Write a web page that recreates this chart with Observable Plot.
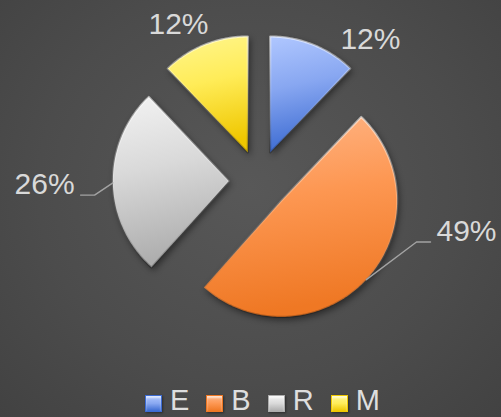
<!DOCTYPE html>
<html><head><meta charset="utf-8">
<script src="https://cdn.jsdelivr.net/npm/d3@7"></script>
<script src="https://cdn.jsdelivr.net/npm/@observablehq/plot@0.6"></script>
<style>
html,body{margin:0;padding:0;width:501px;height:417px;overflow:hidden;}
body{position:relative;background:radial-gradient(ellipse farthest-corner at 50% 45%, #585858 0%, #4c4c4c 60%, #424242 100%);font-family:"Liberation Sans",Arial,sans-serif;}
#chart svg{display:block;background:transparent;}
#chart svg g[aria-label="line"].slices{filter:drop-shadow(2px 3px 3px rgba(0,0,0,0.45));}
#legend{position:absolute;left:145px;top:386px;display:flex;align-items:center;height:29px;font-size:29px;color:#dedede;white-space:nowrap;}
.item{display:flex;align-items:center;margin-right:17px;height:29px;}
.sw{position:relative;top:3px;width:17px;height:17px;margin-right:8px;box-sizing:border-box;}
.tx{display:inline-block;line-height:29px;height:29px;}
</style></head><body>
<div id="chart"></div><div id="legend"></div>
<script>
// ---- data ----
const categories = ["E", "B", "R", "M"];
const values = [12, 49, 26, 12];
// ---- style / layout ----
const palette = {
  E: ["#b0c7ff", "#88a7f1", "#3c6bd2"],
  B: ["#ffb688", "#fd9752", "#ef7824"],
  R: ["#f3f3f3", "#d9d9d9", "#adadad"],
  M: ["#fff68e", "#ffec58", "#efc700"]
};
const labelAngleDeg = [38.3, 103.8, 268.9, 332.7];
const labelRadius = [1.55, 1.842, 1.849, 1.513];
const explode = 0.26;
const unitPx = 116, W = 501, H = 386, cxPx = 258.5, cyPx = 180;

const total = d3.sum(values);
const arcs = d3.pie().sort(null).value(d => d)(values);
const fmt = d3.format(".0%");

const slicePts = [];
const labels = [];
const leaders = [];
arcs.forEach((a, i) => {
  const key = categories[i];
  const mid = (a.startAngle + a.endAngle) / 2;
  const ox = explode * Math.sin(mid), oy = explode * Math.cos(mid);
  slicePts.push({key, x: ox, y: oy});
  const n = Math.ceil((a.endAngle - a.startAngle) / (Math.PI / 180));
  for (let j = 0; j <= n; j++) {
    const t = a.startAngle + (a.endAngle - a.startAngle) * j / n;
    slicePts.push({key, x: ox + Math.sin(t), y: oy + Math.cos(t)});
  }
  slicePts.push({key, x: ox, y: oy});
  const la = labelAngleDeg[i] * Math.PI / 180;
  const lx = labelRadius[i] * Math.sin(la), ly = labelRadius[i] * Math.cos(la);
  labels.push({key, x: lx, y: ly, text: fmt(values[i] / total)});
  if (labelRadius[i] > 1.7) {
    const side = lx < 0 ? 1 : -1;
    const yy = ly - 10.5 / unitPx;
    leaders.push({key, x: ox + Math.sin(mid), y: oy + Math.cos(mid)});
    leaders.push({key, x: lx + side * 50 / unitPx, y: yy});
    leaders.push({key, x: lx + side * 36 / unitPx, y: yy});
  }
});

const svg = Plot.plot({
  width: W, height: H, margin: 0,
  style: {background: "transparent", overflow: "visible"},
  x: {domain: [-cxPx / unitPx, (W - cxPx) / unitPx], axis: null},
  y: {domain: [-(H - cyPx) / unitPx, cyPx / unitPx], axis: null},
  color: {domain: categories, range: categories.map(k => `url(#grad-${k})`)},
  marks: [
    Plot.line(slicePts, {x: "x", y: "y", z: "key", fill: "key", stroke: "url(#bevel)", strokeWidth: 2.2, curve: "linear", className: "slices"}),
    Plot.line(leaders, {x: "x", y: "y", z: "key", stroke: "#a3a3a3", strokeWidth: 1.4, curve: "linear"}),
    Plot.text(labels, {x: "x", y: "y", text: "text", fill: "#d9d9d9", fontSize: 30, fontFamily: "Liberation Sans, Arial, sans-serif", textAnchor: "middle"})
  ]
});

const defs = d3.select(svg).insert("defs", ":first-child");
categories.forEach(k => {
  const g = defs.append("linearGradient").attr("id", `grad-${k}`)
    .attr("x1", 0).attr("y1", 0).attr("x2", 0.15).attr("y2", 1);
  g.append("stop").attr("offset", "0%").attr("stop-color", palette[k][0]);
  g.append("stop").attr("offset", "45%").attr("stop-color", palette[k][1]);
  g.append("stop").attr("offset", "100%").attr("stop-color", palette[k][2]);
});
const bv = defs.append("linearGradient").attr("id", "bevel").attr("x1", 0).attr("y1", 0).attr("x2", 0).attr("y2", 1);
bv.append("stop").attr("offset", "0%").attr("stop-color", "#ffffff").attr("stop-opacity", 0.55);
bv.append("stop").attr("offset", "50%").attr("stop-color", "#ffffff").attr("stop-opacity", 0.15);
bv.append("stop").attr("offset", "100%").attr("stop-color", "#000000").attr("stop-opacity", 0.25);

document.getElementById("chart").appendChild(svg);

const legend = document.getElementById("legend");
categories.forEach(k => {
  const it = document.createElement("div");
  it.className = "item";
  const sw = document.createElement("span");
  sw.className = "sw";
  sw.style.background = `linear-gradient(to bottom, ${palette[k][0]}, ${palette[k][1]} 50%, ${palette[k][2]})`;
  sw.style.border = `1px solid ${palette[k][2]}`;
  sw.style.boxShadow = "inset 0 2px 2px rgba(255,255,255,0.6), 1px 1px 2px rgba(0,0,0,0.4)";
  const tx = document.createElement("span");
  tx.className = "tx";
  tx.textContent = k;
  it.appendChild(sw); it.appendChild(tx);
  legend.appendChild(it);
});
</script>
</body></html>
